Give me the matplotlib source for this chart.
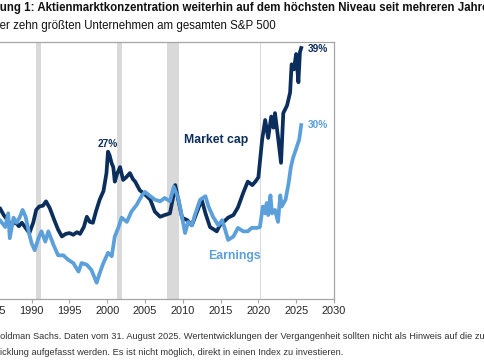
import matplotlib
matplotlib.use("Agg")
import matplotlib.pyplot as plt

plt.rcParams['font.family'] = ['Liberation Sans', 'DejaVu Sans']

# Anteil der zehn groessten Unternehmen (%)
mcap_year = [1985.0, 1985.8, 1986.3, 1986.8, 1987.3, 1987.8, 1988.3, 1988.7, 1989.2, 1989.7,
             1990.2, 1990.6, 1991.0, 1991.5, 1991.9, 1992.4, 1993.0, 1993.5, 1994.0, 1994.5,
             1995.0, 1995.5, 1996.0, 1996.4, 1996.9, 1997.3, 1997.7, 1998.1, 1998.5, 1999.0,
             1999.5, 1999.9, 2000.1, 2000.3, 2000.6, 2000.8, 2001.0, 2001.3, 2001.7, 2002.1,
             2002.5, 2003.0, 2003.4, 2003.7, 2004.3, 2005.0, 2005.7, 2006.3, 2007.0, 2007.6,
             2008.3, 2008.7, 2009.0, 2009.4, 2009.9, 2010.6, 2011.2, 2011.9, 2012.5, 2013.0,
             2013.6, 2014.5, 2014.9, 2015.4, 2016.0, 2016.7, 2017.3, 2018.0, 2018.6, 2019.2,
             2019.6, 2020.0, 2020.5, 2020.9, 2021.3, 2021.7, 2022.0, 2022.2, 2022.6, 2023.0,
             2023.3, 2023.8, 2024.2, 2024.4, 2024.7, 2025.0, 2025.3, 2025.5, 2025.67]
mcap_val = [20.2, 20.6, 19.8, 19.2, 18.6, 19.0, 18.5, 18.9, 18.3, 17.7,
            18.9, 20.4, 20.8, 20.9, 21.4, 20.6, 19.2, 18.1, 17.3, 17.6,
            17.7, 17.5, 17.8, 17.6, 18.4, 19.6, 19.0, 18.9, 20.2, 21.6,
            22.6, 24.7, 27.2, 26.8, 25.8, 25.4, 23.7, 24.6, 25.4, 23.9,
            24.2, 24.7, 24.0, 23.7, 22.7, 22.2, 21.6, 20.2, 19.6, 19.8,
            20.0, 21.8, 23.3, 21.6, 19.5, 19.2, 18.6, 20.2, 21.6, 20.0,
            18.4, 17.9, 18.6, 19.0, 19.5, 19.8, 20.7, 22.4, 23.7, 23.3,
            23.7, 24.2, 28.6, 30.9, 28.8, 31.3, 30.0, 31.7, 28.9, 25.9,
            31.7, 32.6, 34.1, 37.4, 36.8, 38.6, 35.3, 38.8, 39.3]

earn_year = [1985.0, 1985.8, 1986.5, 1986.9, 1987.1, 1987.6, 1988.0, 1988.4, 1988.8, 1989.2,
             1989.7, 1990.0, 1990.4, 1990.9, 1991.3, 1991.8, 1992.2, 1992.9, 1993.5, 1994.2,
             1994.8, 1995.5, 1996.2, 1996.6, 1997.3, 1997.9, 1998.6, 1999.0, 1999.4, 1999.9,
             2000.1, 2000.6, 2001.0, 2001.5, 2001.9, 2002.6, 2003.2, 2003.9, 2004.6, 2005.0,
             2005.7, 2006.3, 2007.0, 2007.6, 2008.3, 2008.8, 2009.4, 2009.8, 2010.3, 2010.7,
             2011.2, 2011.6, 2012.3, 2013.0, 2013.4, 2014.0, 2014.7, 2015.2, 2015.6, 2016.0,
             2016.7, 2017.3, 2018.0, 2018.6, 2019.1, 2019.8, 2020.2, 2020.6, 2020.9, 2021.1,
             2021.3, 2021.6, 2021.8, 2022.2, 2022.6, 2022.9, 2023.1, 2023.6, 2024.0, 2024.3,
             2024.6, 2025.1, 2025.4, 2025.67]
earn_val = [19.5, 19.2, 18.4, 20.0, 17.1, 19.5, 18.9, 19.5, 20.4, 19.6,
            17.5, 16.5, 15.7, 17.1, 17.9, 16.7, 17.9, 16.3, 15.1, 15.1,
            14.6, 14.2, 13.2, 14.2, 14.0, 13.4, 11.9, 13.0, 14.0, 15.0,
            15.4, 15.0, 17.3, 18.4, 19.5, 19.0, 20.2, 21.0, 22.1, 22.5,
            22.0, 21.6, 21.4, 21.8, 21.4, 23.1, 21.8, 20.0, 17.7, 19.0,
            18.6, 19.8, 21.6, 22.0, 20.8, 19.6, 18.6, 19.2, 18.1, 16.9,
            17.3, 18.3, 17.9, 17.9, 18.3, 18.3, 18.4, 20.8, 20.0, 21.2,
            19.8, 22.1, 20.0, 20.4, 19.0, 22.1, 20.8, 21.6, 23.5, 25.4,
            26.5, 27.8, 28.6, 30.3]

# Rezessionen (grau)
recessions = [(1990.55, 1991.25), (2001.25, 2001.95), (2007.95, 2009.5), (2020.2, 2020.35)]
xticks = list(range(1985, 2031, 5))

navy = '#0c2e5c'
lightblue = '#5b9fdb'

fig = plt.figure(figsize=(4.85, 3.6), dpi=100)
ax = fig.add_axes([-0.0905, 0.1694, 0.779, 0.7139])

for a, b in recessions:
    ax.axvspan(a, b, color='#d9d9d9', lw=0, zorder=0)

ax.plot(mcap_year, mcap_val, color=navy, lw=2.7, zorder=2)
ax.plot(earn_year, earn_val, color=lightblue, lw=2.7, zorder=3)

ax.set_xlim(1980, 2030)
ax.set_ylim(10, 40)
ax.set_xticks(xticks)
ax.set_xticklabels([str(x) for x in xticks], fontsize=7.9, color='#262626')
ax.tick_params(axis='x', length=3, color='#a6a6a6', pad=2)
ax.set_yticks([])
for s in ax.spines.values():
    s.set_color('#a6a6a6')
    s.set_linewidth(0.9)

ax.text(2000.1, 28.1, '27%', color=navy, fontsize=7.3, fontweight='bold', ha='center', va='center')
ax.text(2014.45, 28.6, 'Market cap', color=navy, fontsize=8.8, fontweight='bold', ha='center', va='center')
ax.text(2016.9, 15.0, 'Earnings', color=lightblue, fontsize=8.8, fontweight='bold', ha='center', va='center')
ax.text(2026.6, 39.2, '39%', color=navy, fontsize=7.3, fontweight='bold', ha='left', va='center')
ax.text(2026.6, 30.3, '30%', color=lightblue, fontsize=7.3, fontweight='bold', ha='left', va='center')

renderer = fig.canvas.get_renderer()

def cut_text(y, full, prefix, **kw):
    # Bild ist links beschnitten: Text so setzen, dass prefix ausserhalb liegt
    t = fig.text(0, y, prefix, **kw)
    w = t.get_window_extent(renderer=renderer).width
    t.remove()
    fig.text(-w / fig.bbox.width, y, full, **kw)

cut_text(0.978, 'Abbildung 1: Aktienmarktkonzentration weiterhin auf dem höchsten Niveau seit mehreren Jahren',
         'Abbild', fontsize=8.3, fontweight='bold', va='center', color='#111111')
cut_text(0.928, 'Anteil der zehn größten Unternehmen am gesamten S&P 500',
         'Anteil d', fontsize=8.3, va='center', color='#111111')
cut_text(0.064, 'Quelle: Goldman Sachs. Daten vom 31. August 2025. Wertentwicklungen der Vergangenheit sollten nicht als Hinweis auf die zukünftige',
         'Quelle: G', fontsize=6.65, va='center', color='#333333')
cut_text(0.022, 'Wertentwicklung aufgefasst werden. Es ist nicht möglich, direkt in einen Index zu investieren.',
         'Wertentw', fontsize=6.65, va='center', color='#333333')

fig.savefig('out.png', dpi=100)
